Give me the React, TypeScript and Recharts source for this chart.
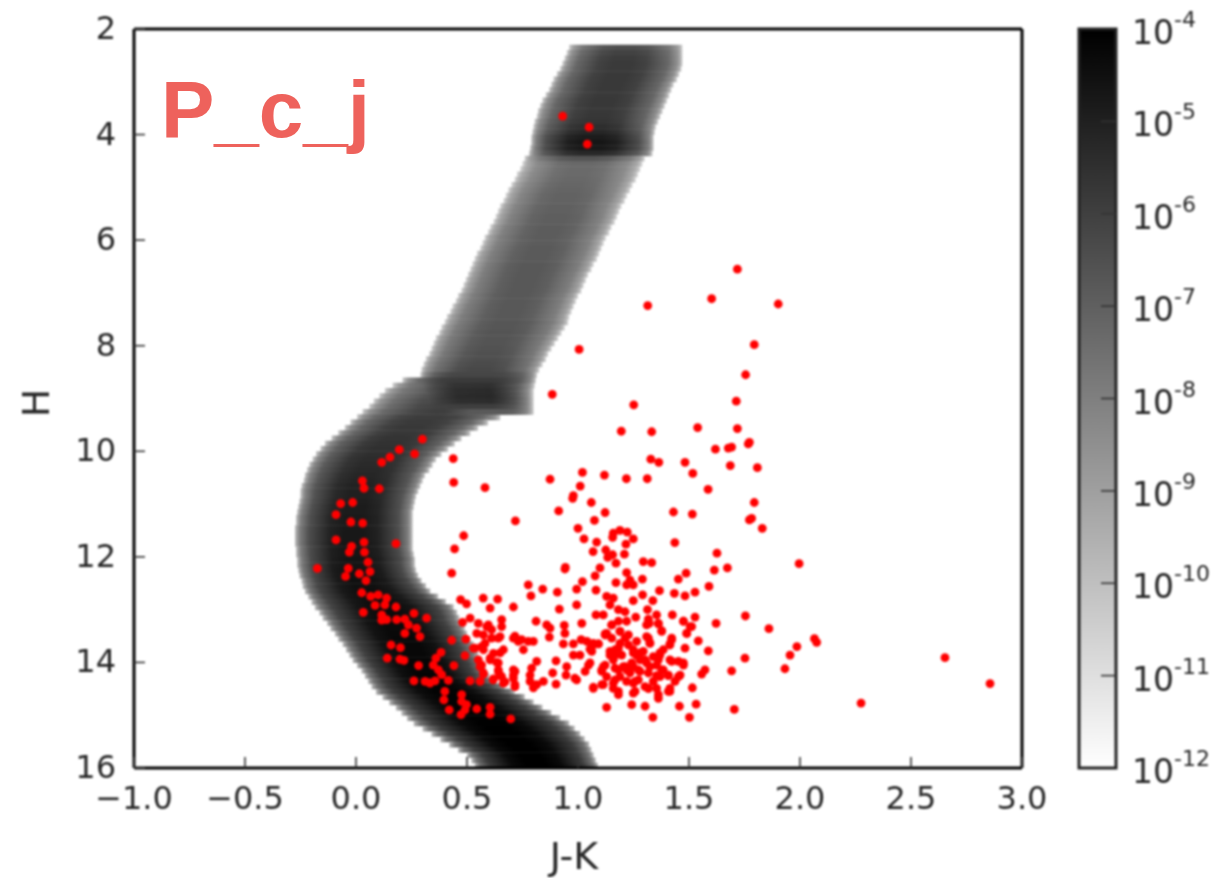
import { ScatterChart, Scatter, XAxis, YAxis, ReferenceArea } from 'recharts';

const W = 1218;
const H = 878;
const FONT = '"DejaVu Sans", sans-serif';
const INK = '#262626';

const xTicks = [-1, -0.5, 0, 0.5, 1, 1.5, 2, 2.5, 3];
const yTicks = [2, 4, 6, 8, 10, 12, 14, 16];
const barExponents = [-12, -11, -10, -9, -8, -7, -6, -5, -4];

// grey track, one row per 0.1 in H, left/right edge in J-K and darkest grey of the row
const bandH = [
  2.3, 2.4, 2.5, 2.6, 2.7, 2.8, 2.9,
  3.0, 3.1, 3.2, 3.3, 3.4, 3.5, 3.6, 3.7, 3.8, 3.9,
  4.0, 4.1, 4.2, 4.3, 4.4, 4.5, 4.6, 4.7, 4.8, 4.9,
  5.0, 5.1, 5.2, 5.3, 5.4, 5.5, 5.6, 5.7, 5.8, 5.9,
  6.0, 6.1, 6.2, 6.3, 6.4, 6.5, 6.6, 6.7, 6.8, 6.9,
  7.0, 7.1, 7.2, 7.3, 7.4, 7.5, 7.6, 7.7, 7.8, 7.9,
  8.0, 8.1, 8.2, 8.3, 8.4, 8.5, 8.6, 8.7, 8.8, 8.9,
  9.0, 9.1, 9.2, 9.3, 9.4, 9.5, 9.6, 9.7, 9.8, 9.9,
  10.0, 10.1, 10.2, 10.3, 10.4, 10.5, 10.6, 10.7, 10.8, 10.9,
  11.0, 11.1, 11.2, 11.3, 11.4, 11.5, 11.6, 11.7, 11.8, 11.9,
  12.0, 12.1, 12.2, 12.3, 12.4, 12.5, 12.6, 12.7, 12.8, 12.9,
  13.0, 13.1, 13.2, 13.3, 13.4, 13.5, 13.6, 13.7, 13.8, 13.9,
  14.0, 14.1, 14.2, 14.3, 14.4, 14.5, 14.6, 14.7, 14.8, 14.9,
  15.0, 15.1, 15.2, 15.3, 15.4, 15.5, 15.6, 15.7, 15.8, 15.9,
];
const bandLeft = [
  0.96, 0.95, 0.94, 0.93, 0.92, 0.905, 0.89,
  0.88, 0.87, 0.855, 0.84, 0.83, 0.82, 0.815, 0.805, 0.8, 0.795,
  0.79, 0.79, 0.785, 0.78, 0.76, 0.75, 0.74, 0.725, 0.715, 0.7,
  0.686, 0.675, 0.665, 0.65, 0.64, 0.63, 0.62, 0.605, 0.595, 0.58,
  0.57, 0.56, 0.545, 0.535, 0.525, 0.515, 0.505, 0.495, 0.485, 0.475,
  0.46, 0.45, 0.435, 0.425, 0.41, 0.4, 0.385, 0.375, 0.36, 0.35,
  0.34, 0.33, 0.315, 0.305, 0.295, 0.29, 0.21, 0.165, 0.13, 0.105,
  0.08, 0.06, 0.03, 0.005, -0.025, -0.05, -0.08, -0.11, -0.14, -0.16,
  -0.18, -0.195, -0.21, -0.22, -0.23, -0.235, -0.245, -0.25, -0.25, -0.255,
  -0.26, -0.265, -0.27, -0.27, -0.275, -0.275, -0.275, -0.275, -0.27, -0.27,
  -0.265, -0.265, -0.26, -0.255, -0.245, -0.24, -0.23, -0.215, -0.2, -0.185,
  -0.165, -0.15, -0.13, -0.115, -0.095, -0.08, -0.06, -0.045, -0.03, -0.015,
  0.005, 0.025, 0.04, 0.055, 0.07, 0.09, 0.12, 0.15, 0.18, 0.205,
  0.23, 0.26, 0.3, 0.34, 0.38, 0.42, 0.46, 0.5, 0.52, 0.535,
];
const bandRight = [
  1.47, 1.47, 1.47, 1.47, 1.465, 1.455, 1.445,
  1.43, 1.42, 1.41, 1.4, 1.39, 1.38, 1.37, 1.36, 1.35, 1.345,
  1.34, 1.34, 1.34, 1.335, 1.3, 1.29, 1.28, 1.27, 1.26, 1.245,
  1.234, 1.22, 1.21, 1.195, 1.185, 1.175, 1.165, 1.15, 1.14, 1.125,
  1.115, 1.105, 1.095, 1.085, 1.07, 1.06, 1.045, 1.035, 1.025, 1.015,
  1.0, 0.99, 0.98, 0.97, 0.96, 0.955, 0.94, 0.925, 0.91, 0.895,
  0.88, 0.865, 0.855, 0.84, 0.825, 0.815, 0.81, 0.805, 0.8, 0.8,
  0.8, 0.8, 0.8, 0.65, 0.595, 0.55, 0.515, 0.475, 0.445, 0.415,
  0.385, 0.36, 0.345, 0.33, 0.31, 0.3, 0.29, 0.28, 0.27, 0.265,
  0.26, 0.255, 0.255, 0.255, 0.255, 0.255, 0.255, 0.255, 0.255, 0.26,
  0.265, 0.265, 0.27, 0.28, 0.295, 0.315, 0.335, 0.37, 0.405, 0.44,
  0.455, 0.465, 0.475, 0.49, 0.5, 0.515, 0.53, 0.54, 0.55, 0.565,
  0.575, 0.585, 0.6, 0.63, 0.67, 0.715, 0.76, 0.8, 0.84, 0.88,
  0.92, 0.96, 0.985, 1.01, 1.03, 1.05, 1.06, 1.07, 1.08, 1.09,
];
const bandCore = [
  78, 66, 60, 58, 58, 57, 57,
  57, 57, 57, 56, 56, 56, 55, 52, 46, 38,
  28, 22, 24, 40, 84, 104, 106, 106, 104, 102,
  100, 98, 98, 96, 96, 94, 94, 92, 92, 92,
  92, 90, 90, 90, 88, 88, 88, 88, 88, 88,
  88, 88, 88, 88, 88, 86, 86, 84, 84, 84,
  82, 80, 78, 75, 72, 70, 60, 80, 80, 75,
  70, 65, 62, 60, 58, 56, 55, 52, 50, 48,
  46, 44, 42, 40, 38, 36, 34, 32, 32, 30,
  28, 28, 26, 26, 25, 24, 24, 22, 22, 22,
  20, 20, 18, 18, 16, 16, 15, 14, 14, 12,
  12, 11, 10, 10, 9, 8, 8, 8, 8, 6,
  6, 6, 5, 5, 4, 4, 3, 3, 2, 2,
  2, 1, 0, 0, 0, 0, 0, 0, 0, 0,
];

// the dark patch near H = 9 sits on the upper part of the track only
const patchH = [8.5, 8.6, 8.7, 8.8, 8.9, 9.0, 9.1, 9.2];
const patchLeft = [0.29, 0.3, 0.3, 0.31, 0.32, 0.33, 0.35, 0.4];
const patchRight = [0.815, 0.81, 0.805, 0.8, 0.8, 0.8, 0.8, 0.8];
const patchCore = [70, 58, 48, 42, 40, 44, 62, 90];

// [J-K, H]
const trackStars = [
  [0.931, 3.65], [1.05, 3.86], [1.042, 4.18],
  [0.299, 9.77], [0.195, 9.97], [0.264, 10.05], [0.153, 10.11], [0.116, 10.21],
  [0.029, 10.56], [0.036, 10.7], [0.105, 10.71], [-0.069, 10.99], [-0.015, 10.97],
  [-0.09, 11.2], [-0.023, 11.34], [0.03, 11.36], [-0.09, 11.68], [0.036, 11.72],
  [0.18, 11.75], [-0.02, 11.8], [-0.03, 11.91], [0.038, 11.91], [0.054, 12.1],
  [-0.174, 12.22], [-0.035, 12.22], [0.063, 12.28], [-0.047, 12.37], [0.015, 12.32],
  [0.045, 12.45], [0.026, 12.68], [0.066, 12.75], [0.1, 12.72], [0.138, 12.78],
  [0.086, 12.92], [0.13, 12.91], [0.18, 12.95], [0.033, 13.05], [0.116, 13.1],
  [0.138, 13.19], [0.116, 13.2], [0.183, 13.19], [0.22, 13.18], [0.261, 13.07],
  [0.318, 13.16], [0.236, 13.29], [0.273, 13.35], [0.22, 13.45], [0.288, 13.51],
  [0.158, 13.67], [0.2, 13.72], [0.141, 13.92], [0.198, 13.94], [0.216, 13.96],
  [0.282, 14.06], [0.383, 13.81], [0.36, 13.92], [0.348, 14.05], [0.441, 14.06],
  [0.431, 13.58], [0.495, 13.56], [0.491, 13.87], [0.371, 14.14], [0.386, 14.23],
  [0.261, 14.35], [0.311, 14.36], [0.333, 14.39], [0.356, 14.35], [0.416, 14.34],
  [0.514, 14.35], [0.559, 14.36], [0.4, 14.55], [0.396, 14.71], [0.42, 14.9],
  [0.476, 14.61], [0.476, 14.74], [0.498, 14.8], [0.473, 14.99], [0.491, 14.9],
  [0.544, 14.88], [0.604, 14.85], [0.604, 14.98], [0.697, 15.07],
];
const upperStars = [
  [1.718, 6.55], [1.602, 7.11], [1.902, 7.21], [1.314, 7.24], [1.794, 7.98],
  [1.005, 8.07], [1.755, 8.55], [0.884, 8.92], [1.251, 9.12], [1.713, 9.05],
  [1.195, 9.62], [1.332, 9.63], [1.539, 9.55], [1.718, 9.57], [1.619, 9.96],
  [1.677, 9.94], [1.692, 9.92], [1.767, 9.86], [1.772, 9.83], [0.438, 10.14],
  [1.328, 10.15], [1.364, 10.21], [1.482, 10.21], [1.517, 10.42], [1.686, 10.27],
  [1.808, 10.31], [1.586, 10.72], [0.44, 10.59], [0.581, 10.69], [0.874, 10.53],
  [1.02, 10.4], [1.119, 10.45], [1.218, 10.52], [1.312, 10.52], [1.01, 10.66],
  [0.979, 10.84], [0.976, 10.89], [1.06, 10.97], [0.913, 11.13], [1.122, 11.16],
  [1.074, 11.31], [0.718, 11.32], [1.43, 11.15], [1.515, 11.19], [1.794, 10.97],
  [1.782, 11.27], [1.772, 11.3], [1.83, 11.46], [1.0, 11.46], [0.485, 11.6],
  [0.444, 11.85], [1.027, 11.66], [1.159, 11.55], [1.156, 11.63], [1.189, 11.5],
  [1.222, 11.53], [1.249, 11.66], [1.216, 11.76], [1.084, 11.72], [1.068, 11.9],
  [1.125, 11.87], [1.134, 12.01], [1.156, 11.96], [1.209, 11.95], [1.171, 12.12],
  [1.294, 12.09], [1.332, 12.11], [1.436, 11.73], [1.626, 11.93], [1.614, 12.25],
  [1.673, 12.21], [1.996, 12.13],
];
const middleStars = [
  [0.431, 12.31], [0.941, 12.23], [0.943, 12.2], [1.099, 12.21], [1.077, 12.36],
  [1.219, 12.3], [1.234, 12.44], [1.219, 12.53], [1.249, 12.53], [1.29, 12.42],
  [1.171, 12.49], [1.02, 12.47], [0.994, 12.61], [0.776, 12.53], [0.788, 12.74],
  [0.841, 12.61], [0.907, 12.67], [1.081, 12.63], [0.994, 12.91], [0.916, 12.99],
  [0.709, 12.95], [0.638, 12.8], [0.573, 12.78], [0.604, 12.97], [0.471, 12.81],
  [0.498, 12.89], [1.487, 12.31], [1.452, 12.42], [1.59, 12.56], [1.527, 12.67],
  [1.482, 12.74], [1.434, 12.69], [1.367, 12.64], [1.291, 12.72], [1.249, 12.83],
  [1.337, 12.83], [1.129, 12.75], [1.159, 12.78], [1.144, 12.91], [1.182, 13.0],
  [1.212, 13.04], [1.081, 13.1], [1.114, 13.1], [1.313, 13.0], [1.354, 13.1],
  [1.425, 13.1], [1.26, 13.14], [1.219, 13.22], [1.527, 13.14], [1.475, 13.22],
  [1.512, 13.32], [1.49, 13.45], [1.317, 13.18], [1.362, 13.26], [1.309, 13.29],
  [1.377, 13.4], [1.754, 13.12], [1.622, 13.26], [1.542, 13.59], [1.482, 13.73],
  [1.587, 13.78], [1.752, 13.92], [1.692, 14.16], [1.572, 14.14], [1.557, 14.22],
  [1.515, 14.48], [1.532, 14.79], [1.457, 14.83], [1.502, 15.04], [1.337, 15.04],
  [1.302, 14.83], [1.242, 14.8], [1.129, 14.85], [1.704, 14.89], [1.182, 14.61],
  [1.159, 14.49], [1.069, 14.47], [1.107, 14.42], [1.182, 13.22], [1.152, 13.29],
  [1.129, 13.45], [1.189, 13.41], [1.212, 13.54], [1.122, 13.48], [1.017, 13.26],
];
const lowerStars = [
  [0.859, 13.29], [0.874, 13.35], [0.871, 13.52], [0.811, 13.22], [0.938, 13.3],
  [0.941, 13.45], [1.014, 13.57], [1.04, 13.6], [1.069, 13.64], [1.054, 13.75],
  [1.092, 13.65], [0.934, 13.65], [0.979, 13.65], [0.709, 13.54], [0.731, 13.6],
  [0.754, 13.76], [0.776, 13.6], [0.799, 13.6], [0.979, 13.86], [1.009, 13.86],
  [1.047, 14.05], [0.901, 13.97], [0.814, 13.98], [0.791, 14.11], [0.784, 14.24],
  [0.949, 14.08], [0.946, 14.24], [0.886, 14.2], [0.986, 14.3], [0.994, 14.33],
  [1.032, 14.17], [0.844, 14.36], [0.814, 14.42], [0.784, 14.36], [0.799, 14.48],
  [0.901, 14.41], [0.716, 14.17], [0.709, 14.3], [0.716, 14.42], [0.664, 14.39],
  [0.574, 14.2], [0.618, 14.33], [0.649, 14.24], [0.551, 13.95], [0.559, 14.08],
  [0.604, 13.95], [0.634, 14.0], [0.641, 14.14], [0.619, 13.83], [0.664, 13.76],
  [0.536, 13.73], [0.566, 13.7], [0.574, 13.48], [0.544, 13.45], [0.611, 13.54],
  [0.641, 13.54], [0.551, 13.26], [0.589, 13.32], [0.611, 13.38], [0.656, 13.19],
  [0.656, 13.32], [0.48, 13.24], [0.514, 13.16],
  [0.596, 13.29], [0.649, 13.51], [0.581, 13.64], [0.529, 13.73], [0.574, 13.76],
  [0.649, 13.82], [0.604, 13.92], [0.641, 14.01], [0.566, 14.05], [0.641, 14.17],
  [0.574, 14.22], [0.619, 14.31], [0.656, 14.27], [0.671, 14.37], [0.709, 14.14],
  [0.716, 14.46], [0.709, 14.24], [0.746, 13.57], [0.716, 13.5],
];
const denseStars = [
  [1.152, 13.54], [1.189, 13.64], [1.167, 13.76], [1.144, 13.86], [1.114, 14.08],
  [1.107, 14.17], [1.159, 13.95], [1.197, 13.86], [1.227, 13.67], [1.249, 13.76],
  [1.264, 13.86], [1.294, 13.79], [1.317, 13.54], [1.324, 13.64], [1.279, 13.95],
  [1.309, 14.01], [1.339, 13.89], [1.369, 13.86], [1.384, 13.76], [1.422, 13.57],
  [1.414, 13.67], [1.212, 14.08], [1.234, 14.2], [1.182, 14.14], [1.189, 14.27],
  [1.249, 14.08], [1.279, 14.17], [1.317, 14.2], [1.354, 14.05], [1.384, 14.14],
  [1.414, 13.95], [1.452, 13.98], [1.475, 14.05], [1.46, 14.24], [1.437, 14.36],
  [1.407, 14.24], [1.369, 14.27], [1.339, 14.36], [1.302, 14.46], [1.257, 14.36],
  [1.219, 14.36], [1.167, 14.33], [1.129, 14.27], [1.249, 14.58], [1.317, 14.49],
  [1.362, 14.61], [1.414, 14.55], [1.354, 14.49], [1.264, 13.6], [1.227, 13.48],
  [1.152, 13.29], [1.189, 13.41], [1.122, 13.46], [1.321, 13.26], [1.362, 13.27],
  [1.377, 13.41], [1.309, 13.51], [1.324, 13.63], [1.422, 13.54], [1.414, 13.65],
  [1.475, 13.22], [1.505, 13.32], [1.49, 13.45], [1.092, 13.65], [1.062, 13.7],
  [1.062, 13.79], [1.144, 13.79], [1.182, 13.73], [1.167, 13.86], [1.054, 14.01],
  [1.122, 14.05], [1.107, 14.14], [1.167, 14.11], [1.204, 14.08], [1.249, 13.82],
  [1.279, 13.82], [1.302, 13.95], [1.242, 14.01], [1.219, 14.14], [1.272, 14.14],
  [1.324, 14.08], [1.369, 13.82], [1.362, 13.95], [1.377, 14.14], [1.422, 13.98],
  [1.475, 14.01], [1.452, 14.27], [1.407, 14.25], [1.354, 14.25], [1.272, 14.33],
  [1.249, 14.39], [1.182, 14.55], [1.159, 14.39], [1.069, 14.49], [1.114, 14.42],
  [1.257, 14.55], [1.317, 14.49], [1.362, 14.68], [1.414, 14.49], [1.407, 14.55],
];
const farStars = [
  [2.065, 13.55], [2.075, 13.62], [1.986, 13.7], [1.955, 13.86], [1.932, 14.12],
  [1.86, 13.36], [2.275, 14.77], [2.653, 13.91], [2.856, 14.4],
];

const stars = [...trackStars, ...upperStars, ...middleStars, ...lowerStars, ...denseStars, ...farStars]
  .map(([jk, h]) => ({ jk, h }));

const barLevels = barExponents.map((e) => ({ pos: 0.5, e }));

const grey = (c: number, f = 0) => {
  const v = Math.round(c + (255 - c) * f);
  return `rgb(${v},${v},${v})`;
};

const rowStops: [number, number][] = [
  [0, 0.72], [0.04, 0.44], [0.12, 0.23], [0.3, 0.04], [0.42, 0], [0.58, 0], [0.7, 0.04], [0.88, 0.23], [0.96, 0.44], [1, 0.72],
];

function BottomTick({ x, y, payload }: any) {
  return (
    <g>
      <line x1={x} x2={x} y1={y} y2={y - 11} stroke="#333" strokeWidth={1.6} />
      <text x={x} y={y + 30} textAnchor="middle" dominantBaseline="central" fontSize={32} fontFamily={FONT} fill={INK}>
        {payload.value.toFixed(1).replace('-', '\u2212')}
      </text>
    </g>
  );
}

function TopTick({ x, y }: any) {
  return <line x1={x} x2={x} y1={y} y2={y + 11} stroke="#333" strokeWidth={1.6} />;
}

function LeftTick({ x, y, payload }: any) {
  return (
    <g>
      <line x1={x} x2={x + 11} y1={y} y2={y} stroke="#333" strokeWidth={1.6} />
      <text x={x - 18} y={y - 1} textAnchor="end" dominantBaseline="central" fontSize={32} fontFamily={FONT} fill={INK}>
        {payload.value}
      </text>
    </g>
  );
}

function RightTick({ x, y }: any) {
  return <line x1={x} x2={x - 11} y1={y} y2={y} stroke="#333" strokeWidth={1.6} />;
}

function BarTick({ x, y, payload }: any) {
  return (
    <g>
      {payload.value > -12 && payload.value < -4 && (
        <line x1={x} x2={x - 15} y1={y} y2={y} stroke="#333" strokeWidth={1.6} />
      )}
      <text x={x + 16} y={y + 15} fontSize={33} fontFamily={FONT} fill={INK}>
        <tspan>10</tspan>
        <tspan dy={-17} fontSize={22}>{payload.value}</tspan>
      </text>
    </g>
  );
}

function Dot({ cx, cy }: any) {
  return <circle cx={cx} cy={cy} r={4.4} fill="#ff0000" />;
}

function NoMark() {
  return <g />;
}

export default function App() {
  return (
    <div style={{ position: 'absolute', left: 0, top: 0, width: W, height: H, overflow: 'hidden', background: '#fff' }}>
      <div style={{ position: 'absolute', left: 0, top: 0, width: W, height: H, filter: 'blur(0.8px)' }}>
        <div style={{ position: 'absolute', left: 0, top: 0 }}>
          <ScatterChart width={W} height={H} margin={{ top: 19, right: 186, bottom: 0, left: 0 }}>
            <defs>
              {bandH.map((_, i) => (
                <linearGradient key={i} id={`row${i}`} x1="0" x2="1" y1="0" y2="0">
                  {rowStops.map(([o, f]) => (
                    <stop key={o} offset={o} stopColor={grey(bandCore[i], f)} />
                  ))}
                </linearGradient>
              ))}
              {patchH.map((_, i) => (
                <linearGradient key={i} id={`patch${i}`} x1="0" x2="1" y1="0" y2="0">
                  <stop offset={0} stopColor={grey(patchCore[i])} stopOpacity={0} />
                  <stop offset={0.28} stopColor={grey(patchCore[i])} stopOpacity={0.9} />
                  <stop offset={0.6} stopColor={grey(patchCore[i])} stopOpacity={1} />
                  <stop offset={1} stopColor={grey(patchCore[i])} stopOpacity={0} />
                </linearGradient>
              ))}
            </defs>
            <XAxis
              xAxisId="bottom"
              dataKey="jk"
              type="number"
              domain={[-1, 3]}
              ticks={xTicks}
              height={110}
              tickSize={0}
              tickMargin={0}
              tickLine={false}
              tick={BottomTick}
              interval={0}
              axisLine={{ stroke: '#000', strokeWidth: 3 }}
              label={{ value: 'J-K', position: { x: 440, y: 88 }, textAnchor: 'middle', dominantBaseline: 'central', fontSize: 38, fontFamily: FONT, fill: INK }}
            />
            <XAxis
              xAxisId="top"
              orientation="top"
              type="number"
              domain={[-1, 3]}
              ticks={xTicks}
              height={10}
              tickSize={0}
              tickMargin={0}
              tickLine={false}
              tick={TopTick}
              interval={0}
              axisLine={{ stroke: '#000', strokeWidth: 3 }}
            />
            <YAxis
              yAxisId="left"
              dataKey="h"
              type="number"
              domain={[2, 16]}
              reversed
              ticks={yTicks}
              width={134}
              tickSize={0}
              tickMargin={0}
              tickLine={false}
              tick={LeftTick}
              interval={0}
              axisLine={{ stroke: '#000', strokeWidth: 3 }}
              label={{ value: 'H', angle: -90, position: { x: 36, y: 374 }, textAnchor: 'middle', dominantBaseline: 'central', fontSize: 38, fontFamily: FONT, fill: INK }}
            />
            <YAxis
              yAxisId="right"
              orientation="right"
              type="number"
              domain={[2, 16]}
              reversed
              ticks={yTicks}
              width={10}
              tickSize={0}
              tickMargin={0}
              tickLine={false}
              tick={RightTick}
              interval={0}
              axisLine={{ stroke: '#000', strokeWidth: 3 }}
            />
            {bandH.map((h, i) => (
              <ReferenceArea
                key={h}
                xAxisId="bottom"
                yAxisId="left"
                x1={bandLeft[i]}
                x2={bandRight[i]}
                y1={h}
                y2={i === bandH.length - 1 ? 16 : h + 0.11}
                fill={`url(#row${i})`}
                fillOpacity={1}
                stroke="none"
                ifOverflow="visible"
              />
            ))}
            {patchH.map((h, i) => (
              <ReferenceArea
                key={h}
                xAxisId="bottom"
                yAxisId="left"
                x1={patchLeft[i]}
                x2={patchRight[i]}
                y1={h}
                y2={h + 0.11}
                fill={`url(#patch${i})`}
                fillOpacity={1}
                stroke="none"
                ifOverflow="visible"
              />
            ))}
            <Scatter xAxisId="bottom" yAxisId="left" data={stars} shape={Dot} isAnimationActive={false} />
          </ScatterChart>
        </div>
        <div style={{ position: 'absolute', left: 0, top: 0 }}>
          <ScatterChart width={W} height={H} margin={{ top: 29, right: 0, bottom: 110, left: 1079 }}>
            <defs>
              <linearGradient id="barFill" x1="0" x2="0" y1="0" y2="1">
                <stop offset={0} stopColor="#000" />
                <stop offset={1} stopColor="#fff" />
              </linearGradient>
            </defs>
            <XAxis xAxisId="bar" dataKey="pos" type="number" domain={[0, 1]} hide />
            <YAxis
              yAxisId="bar"
              dataKey="e"
              orientation="right"
              type="number"
              domain={[-12, -4]}
              ticks={barExponents}
              width={102}
              tickSize={0}
              tickMargin={0}
              tickLine={false}
              axisLine={false}
              tick={BarTick}
              interval={0}
            />
            <ReferenceArea
              xAxisId="bar"
              yAxisId="bar"
              x1={0}
              x2={1}
              y1={-12}
              y2={-4}
              fill="url(#barFill)"
              fillOpacity={1}
              stroke="#222"
              strokeWidth={3}
              ifOverflow="visible"
            />
            <Scatter xAxisId="bar" yAxisId="bar" data={barLevels} shape={NoMark} isAnimationActive={false} />
          </ScatterChart>
        </div>
      </div>
      <div
        style={{
          position: 'absolute',
          left: 161,
          top: 64,
          fontFamily: '"Liberation Sans", Arial, sans-serif',
          fontWeight: 700,
          fontSize: 80,
          lineHeight: '92px',
          color: '#ee625c',
        }}
      >
        P_c_j
      </div>
    </div>
  );
}
